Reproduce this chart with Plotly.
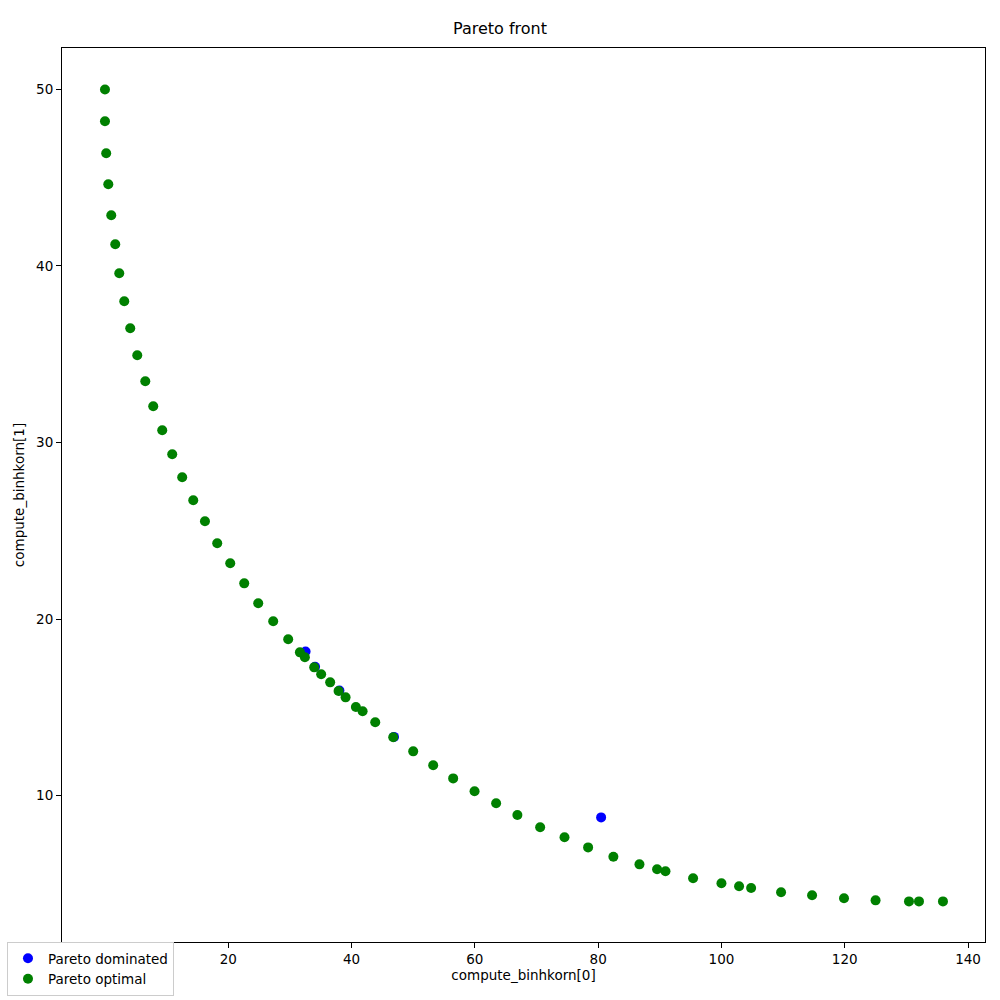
import plotly.graph_objects as go

# Pareto optimal points (compute_binhkorn[0], compute_binhkorn[1])
opt_x = [0.0, 0.0, 0.2, 0.54, 1.02, 1.67, 2.32, 3.13, 4.1, 5.24,
         6.54, 7.83, 9.29, 10.91, 12.53, 14.32, 16.22, 18.21, 20.32, 22.59,
         24.86, 27.29, 29.72, 31.62, 32.43, 33.94, 35.07, 36.53, 37.89, 39.03,
         40.7, 41.79, 43.84, 46.76, 50.0, 53.24, 56.48, 59.95, 63.45, 66.9,
         70.59, 74.54, 78.37, 82.47, 86.7, 89.56, 90.92, 95.4, 100.0, 102.86,
         104.81, 109.67, 114.7, 119.88, 125.0, 130.42, 132.04, 135.93]
opt_y = [50.0, 48.2, 46.39, 44.63, 42.87, 41.23, 39.59, 38.0, 36.47, 34.94,
         33.47, 32.05, 30.69, 29.33, 28.03, 26.73, 25.54, 24.29, 23.16, 22.02,
         20.89, 19.87, 18.85, 18.11, 17.83, 17.26, 16.87, 16.41, 15.92, 15.56,
         15.01, 14.77, 14.15, 13.30, 12.50, 11.71, 10.97, 10.24, 9.56, 8.90,
         8.20, 7.63, 7.06, 6.53, 6.10, 5.82, 5.71, 5.31, 5.03, 4.86,
         4.76, 4.52, 4.35, 4.18, 4.06, 4.0, 4.0, 4.0]

# Pareto dominated points
dom_x = [32.54, 34.08, 38.03, 46.88, 80.48]
dom_y = [18.16, 17.29, 15.95, 13.32, 8.76]

fig = go.Figure()
fig.add_trace(go.Scatter(x=dom_x, y=dom_y, mode="markers", name="Pareto dominated",
                         marker=dict(color="#0000ff", size=10, line=dict(width=0))))
fig.add_trace(go.Scatter(x=opt_x, y=opt_y, mode="markers", name="Pareto optimal",
                         marker=dict(color="#008000", size=10, line=dict(width=0))))

axis_common = dict(showgrid=False, zeroline=False, showline=True, linecolor="black",
                   linewidth=1, mirror=True, ticks="outside", ticklen=5, tickwidth=1,
                   tickcolor="black", automargin=True,
                   tickfont=dict(family="DejaVu Sans", size=13.5, color="black"))

fig.update_layout(
    width=1000, height=1000,
    margin=dict(l=62, r=15, t=48, b=58, autoexpand=False),
    paper_bgcolor="white", plot_bgcolor="white",
    font=dict(family="DejaVu Sans", color="black"),
    title=dict(text="Pareto front", x=0.5, xref="container", y=0.972, yref="container",
               xanchor="center", yanchor="middle",
               font=dict(family="DejaVu Sans", size=16, color="black")),
    xaxis=dict(range=[-6.97, 142.75], tickvals=[0, 20, 40, 60, 80, 100, 120, 140],
               title=dict(text="compute_binhkorn[0]", standoff=4,
                          font=dict(family="DejaVu Sans", size=13.5, color="black")),
               **axis_common),
    yaxis=dict(range=[1.7, 52.35], tickvals=[10, 20, 30, 40, 50],
               title=dict(text="compute_binhkorn[1]", standoff=8,
                          font=dict(family="DejaVu Sans", size=13.5, color="black")),
               **axis_common),
    legend=dict(x=-0.0596, y=0.0, xanchor="left", yanchor="top",
                bgcolor="white", bordercolor="#cccccc", borderwidth=1,
                font=dict(family="DejaVu Sans", size=13.5, color="black"),
                tracegroupgap=0),
    showlegend=True,
)

fig.write_html("out.html")
